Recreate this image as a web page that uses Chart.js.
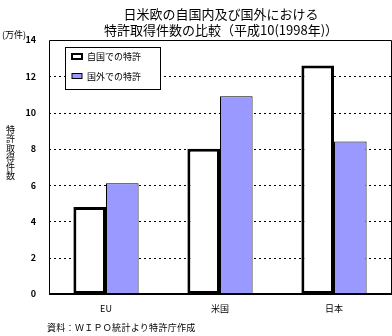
<!DOCTYPE html>
<html><head><meta charset="utf-8">
<script src="https://cdn.jsdelivr.net/npm/chart.js@4"></script>
<style>
html,body{margin:0;padding:0;background:#fff;}
#wrap{position:relative;width:392px;height:336px;overflow:hidden;font-family:"Noto Sans CJK JP",sans-serif;color:#000}
canvas{position:absolute;left:0;top:0}
.t{position:absolute;white-space:nowrap;line-height:1}
</style></head><body>
<div id="wrap">
<canvas id="c" width="392" height="336"></canvas>
<div class="t" style="left:221px;top:6px;transform:translateX(-50%);text-align:center;font-size:13px;line-height:16px">日米欧の自国内及び国外における<br>特許取得件数の比較（平成10(1998年)）</div>
<div class="t" style="left:2px;top:30px;font-size:9px">(万件)</div>
<div class="t" style="left:6px;top:125px;font-size:9px;line-height:9.3px;text-align:center">特<br>許<br>取<br>得<br>件<br>数</div>
<div class="t" style="left:47px;top:323px;font-size:9px;letter-spacing:0.3px">資料：ＷＩＰＯ統計より特許庁作成</div>
</div>
<script>
const categories = ['EU', '米国', '日本'];
const seriesNames = ['自国での特許', '国外での特許'];
const domesticPatents = [4.8, 8.0, 12.6];
const foreignPatents = [6.1, 10.9, 8.4];
const yTicks = [0, 2, 4, 6, 8, 10, 12, 14];

const FONT = '"Noto Sans CJK JP", sans-serif';

const framePlugin = {
  id: 'frame',
  beforeDatasetsDraw(chart) {
    const {ctx, chartArea: a} = chart;
    const ys = chart.scales.y;
    ctx.save();
    ctx.strokeStyle = '#000';
    ctx.lineWidth = 1;
    ctx.setLineDash([2, 3]);
    ys.ticks.forEach(t => {
      if (t.value === 0 || t.value === 14) return;
      const y = Math.round(ys.getPixelForValue(t.value)) + 0.5;
      ctx.beginPath();
      ctx.moveTo(a.left, y);
      ctx.lineTo(a.right, y);
      ctx.stroke();
    });
    ctx.restore();
  },
  afterDatasetsDraw(chart) {
    const {ctx, chartArea: a} = chart;
    ctx.save();
    ctx.strokeStyle = '#000';
    ctx.lineWidth = 1;
    ctx.beginPath();
    ctx.moveTo(Math.round(a.left) + 0.5, a.bottom);
    ctx.lineTo(Math.round(a.left) + 0.5, Math.round(a.top) + 0.5);
    ctx.lineTo(Math.round(a.right) + 0.5, Math.round(a.top) + 0.5);
    ctx.lineTo(Math.round(a.right) + 0.5, a.bottom);
    ctx.stroke();
    ctx.lineWidth = 2;
    ctx.beginPath();
    ctx.moveTo(a.left, Math.round(a.bottom));
    ctx.lineTo(a.right + 1, Math.round(a.bottom));
    ctx.stroke();
    ctx.restore();
  },
  afterDraw(chart) {
    const {ctx} = chart;
    ctx.save();
    const bx = 65.5, by = 47.5, bw = 95, bh = 42;
    ctx.fillStyle = '#fff';
    ctx.fillRect(bx, by, bw, bh);
    ctx.strokeStyle = '#000';
    ctx.lineWidth = 1;
    ctx.strokeRect(bx, by, bw, bh);
    const ys = [56.5, 76];
    chart.data.datasets.forEach((ds, i) => {
      const y = ys[i];
      ctx.fillStyle = ds.backgroundColor;
      ctx.fillRect(72, y - 2.5, 10, 5);
      ctx.lineWidth = i === 0 ? 2 : 1;
      ctx.strokeStyle = '#000';
      ctx.strokeRect(72, y - 2.5, 10, 5);
      ctx.fillStyle = '#000';
      ctx.font = '9px ' + FONT;
      ctx.textBaseline = 'middle';
      ctx.textAlign = 'left';
      ctx.fillText(ds.label, 87, y + 0.5);
    });
    ctx.restore();
  }
};

new Chart(document.getElementById('c'), {
  type: 'bar',
  data: {
    labels: categories,
    datasets: [
      {label: seriesNames[0], data: domesticPatents, backgroundColor: '#ffffff', borderColor: '#000', borderWidth: 3, borderSkipped: false},
      {label: seriesNames[1], data: foreignPatents, backgroundColor: '#9999ff', borderColor: '#000', borderWidth: 1, borderSkipped: false}
    ]
  },
  options: {
    responsive: false,
    animation: false,
    events: [],
    layout: {padding: {left: 0, top: 40, right: 1, bottom: 0}},
    plugins: {legend: {display: false}, title: {display: false}, tooltip: {enabled: false}},
    datasets: {bar: {categoryPercentage: 0.572, barPercentage: 1}},
    scales: {
      x: {
        grid: {display: false, drawTicks: false},
        border: {display: false},
        ticks: {color: '#000', font: {family: FONT, size: 9}, padding: 9, maxRotation: 0},
        afterFit(s) { s.height = 42; }
      },
      y: {
        min: 0, max: 14,
        afterBuildTicks(s) { s.ticks = yTicks.map(v => ({value: v})); },
        grid: {display: false, drawTicks: false},
        border: {display: false},
        ticks: {color: '#000', font: {family: FONT, size: 9, weight: 'bold'}, padding: 13},
        afterFit(s) { s.width = 49; }
      }
    }
  },
  plugins: [framePlugin]
});
</script>
</body></html>
